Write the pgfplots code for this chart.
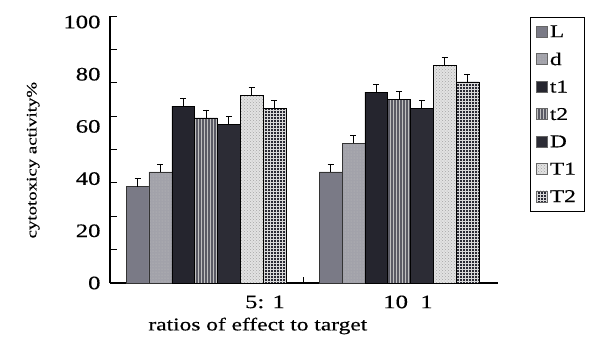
\documentclass[border=0pt]{standalone}
\usepackage{fontspec}
\setmainfont{Liberation Serif}[FakeStretch=1.3, FakeBold=0.4]
\usepackage{pgfplots}
\pgfplotsset{compat=1.18}
\usetikzlibrary{patterns}
\definecolor{cL}{HTML}{7A7A86}
\definecolor{cd}{HTML}{A2A2AA}
\definecolor{ct1}{HTML}{25252E}
\definecolor{ct2}{HTML}{5A5A64}
\definecolor{cD}{HTML}{2C2C35}
\definecolor{cT1}{HTML}{E2E2E2}
\definecolor{cT2}{HTML}{2A2A34}
\begin{document}
\begin{tikzpicture}[x=1pt,y=1pt]
\path[use as bounding box] (-110,-55) rectangle (489,283);
\begin{axis}[
  at={(0,0)}, anchor=south west,
  scale only axis, width=388pt, height=267pt,
  xmin=110, xmax=498, ymin=0, ymax=102.3,
  clip=false,
  axis x line*=bottom, axis y line*=left,
  axis line style={line width=1.1pt,-},
  ybar=0pt, bar width=22.8,
  /pgf/number format/assume math mode=true,
  major tick length=6pt, tick align=inside,
  tick style={line width=0.8pt, black},
  ytick={0,20,...,100},
  ytick style={draw=none},
  xtick={303}, xticklabels={},
  extra x ticks={265,408}, extra x tick labels={5: 1, 10\ \ 1},
  extra x tick style={major tick length=0pt},
  tick label style={font=\fontsize{19}{21}\selectfont},
  xticklabel style={yshift=-9pt},
  yticklabel style={xshift=-6pt},
  xlabel={ratios of effect to target},
  xlabel style={font=\fontsize{18}{20}\selectfont, at={(axis description cs:0.381,-0.161)}, anchor=center},
  ylabel={cytotoxicy activity\%},
  ylabel style={font=\fontsize{14.5}{17}\selectfont, at={(axis description cs:-0.198,0.46)}, anchor=center},
  legend style={at={(1.0825,0.996)}, anchor=north west, draw=black, line width=0.6pt,
    font=\fontsize{18}{20}\selectfont, row sep=10pt, inner xsep=6pt, inner ysep=6pt,
    cells={anchor=west}, /tikz/every even column/.append style={column sep=5pt}},
  legend image code/.code={\draw[#1,draw=black!60] (0pt,-5pt) rectangle (11pt,6pt);},
  error bars/y dir=plus, error bars/y explicit,
  error bars/error mark options={rotate=90, mark size=3pt, line width=0.8pt, black},
  error bars/error bar style={line width=0.8pt, black},
]
\addplot[fill=cL, draw=black!80] coordinates {(206,36.9) +- (0,3) (399,42.6) +- (0,3)};
\addplot[fill=cd, draw=black!80, postaction={pattern=dots, pattern color=gray!50}] coordinates {(206,42.6) +- (0,3) (399,53.5) +- (0,3)};
\addplot[fill=ct1, draw=black] coordinates {(206,67.8) +- (0,3) (399,73.1) +- (0,3)};
\addplot[fill=ct2, draw=black, postaction={pattern=vertical lines, pattern color=gray!50}] coordinates {(206,63.3) +- (0,3) (399,70.4) +- (0,3)};
\addplot[fill=cD, draw=black] coordinates {(206,60.8) +- (0,3) (399,67.0) +- (0,3)};
\addplot[fill=cT1, draw=black, postaction={pattern=crosshatch dots, pattern color=gray!70}] coordinates {(206,72.0) +- (0,3) (399,83.5) +- (0,3)};
\addplot[fill=cT2, draw=black, postaction={pattern=grid, pattern color=gray!30}] coordinates {(206,66.9) +- (0,3) (399,77.1) +- (0,3)};
\legend{L,d,t1,t2,D,T1,T2}
\draw[line width=1pt, black] (axis cs:110,12.79) -- (axis cs:117,12.79);
\draw[line width=1pt, black] (axis cs:110,25.58) -- (axis cs:117,25.58);
\draw[line width=1pt, black] (axis cs:110,38.36) -- (axis cs:117,38.36);
\draw[line width=1pt, black] (axis cs:110,51.15) -- (axis cs:117,51.15);
\draw[line width=1pt, black] (axis cs:110,63.94) -- (axis cs:117,63.94);
\draw[line width=1pt, black] (axis cs:110,76.73) -- (axis cs:117,76.73);
\draw[line width=1pt, black] (axis cs:110,89.51) -- (axis cs:117,89.51);
\draw[line width=1pt, black] (axis cs:110,102.3) -- (axis cs:117,102.3);
\end{axis}
\end{tikzpicture}
\end{document}
